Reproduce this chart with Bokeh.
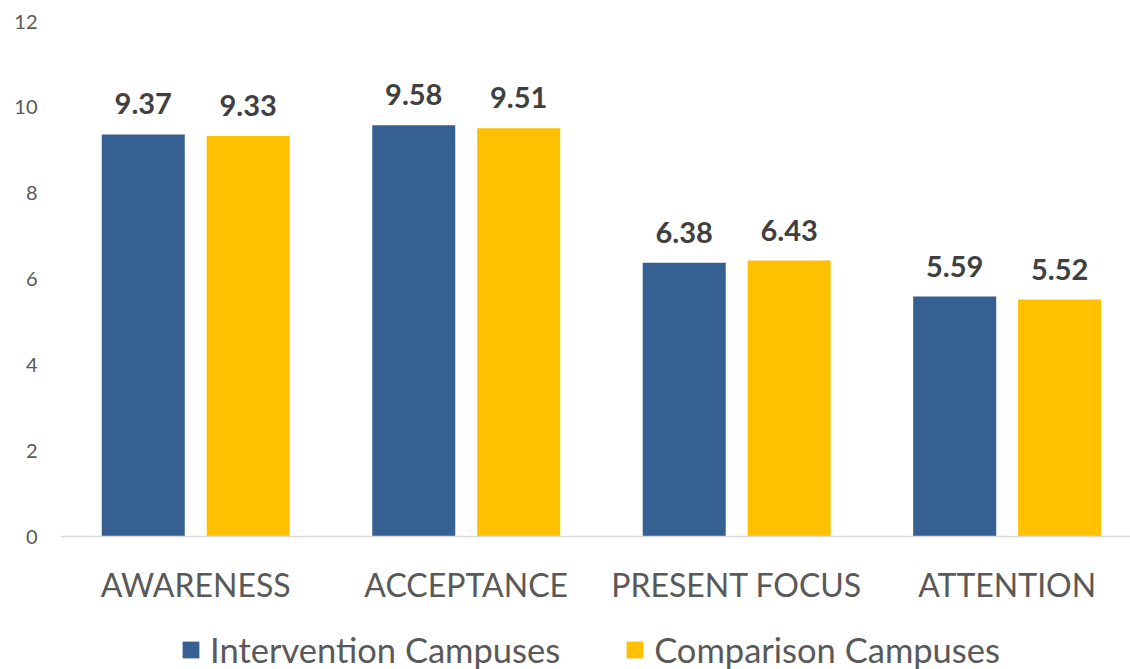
from bokeh.plotting import figure
from bokeh.models import (ColumnDataSource, Range1d, FixedTicker, LabelSet, Legend, LegendItem, Span)
from bokeh.core.properties import value
from bokeh.embed import file_html
from bokeh.resources import INLINE

categories = ["AWARENESS", "ACCEPTANCE", "PRESENT FOCUS", "ATTENTION"]
series_names = ["Intervention Campuses", "Comparison Campuses"]
intervention = [9.37, 9.58, 6.38, 5.59]
comparison = [9.33, 9.51, 6.43, 5.52]
y_ticks = [0, 2, 4, 6, 8, 10, 12]

colors = ["#376092", "#FFC000"]
FONT = "Lato"

centers = [i + 0.5 for i in range(len(categories))]
offset = 0.194
bar_w = 0.307

src_a = ColumnDataSource(dict(x=[c - offset for c in centers], top=intervention,
                              lab=["%.2f" % v for v in intervention]))
src_b = ColumnDataSource(dict(x=[c + offset for c in centers], top=comparison,
                              lab=["%.2f" % v for v in comparison]))
src_cat = ColumnDataSource(dict(x=centers, y=[0] * len(categories), name=categories))

p = figure(width=1130, height=669, output_backend="svg", toolbar_location=None,
           x_range=Range1d(0, 3.956), y_range=Range1d(-3.098, 12),
           min_border_left=60, min_border_right=0, min_border_top=21, min_border_bottom=0)
p.outline_line_color = None
p.xgrid.grid_line_color = None
p.ygrid.grid_line_color = None
p.background_fill_color = "white"
p.border_fill_color = "white"
p.xaxis.visible = False

ra = p.vbar(x="x", top="top", width=bar_w, source=src_a, fill_color=colors[0], line_color=None)
rb = p.vbar(x="x", top="top", width=bar_w, source=src_b, fill_color=colors[1], line_color=None)

# baseline (category axis line)
p.add_layout(Span(location=0, dimension="width", line_color="#D9D9D9", line_width=1.5))

for src in (src_a, src_b):
    labels = LabelSet(x="x", y="top", text="lab", source=src, text_align="center",
                      text_baseline="alphabetic", y_offset=20,
                      text_font=value(FONT), text_font_style="bold",
                      text_font_size="29px", text_color="#404040")
    p.add_layout(labels)

# category labels under the baseline
cat_labels = LabelSet(x="x", y="y", text="name", source=src_cat, text_align="center",
                      text_baseline="alphabetic", y_offset=-60,
                      text_font=value(FONT), text_font_size="32px", text_color="#595959")
p.add_layout(cat_labels)

# y axis
p.yaxis.ticker = FixedTicker(ticks=y_ticks)
p.yaxis.axis_line_color = None
p.yaxis.major_tick_line_color = None
p.yaxis.minor_tick_line_color = None
p.yaxis.major_tick_out = 0
p.yaxis.major_tick_in = 0
p.yaxis.major_label_text_font = FONT
p.yaxis.major_label_text_font_size = "20px"
p.yaxis.major_label_text_color = "#595959"
p.yaxis.major_label_standoff = 23

legend = Legend(items=[LegendItem(label=series_names[0], renderers=[ra]),
                       LegendItem(label=series_names[1], renderers=[rb])],
                orientation="horizontal", location=(120, -1),
                glyph_width=21, glyph_height=21, label_standoff=9, spacing=64,
                label_text_font=FONT, label_text_font_size="34.5px",
                label_text_color="#595959", border_line_color=None,
                background_fill_alpha=0, padding=0, margin=0)
p.add_layout(legend)

open("out.html", "w").write(file_html(p, INLINE))
